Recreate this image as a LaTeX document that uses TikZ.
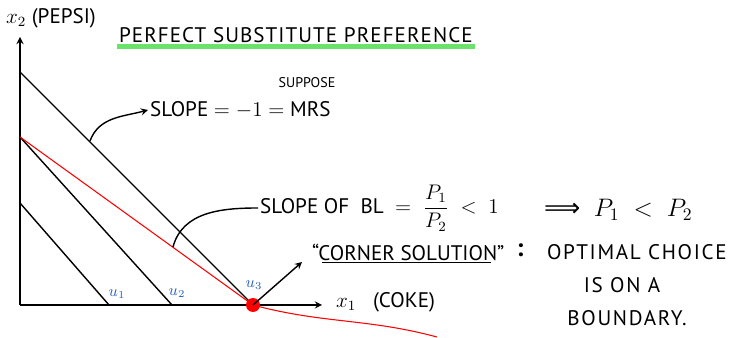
\documentclass[tikz,border=0pt]{standalone}
\usepackage{fontspec}
\setmainfont{PT Sans}
\newfontfamily\widefont{PT Sans}[LetterSpace=8]
\newfontfamily\titlefont{PT Sans}[LetterSpace=5]
\newfontfamily\symfont{DejaVu Sans}
\usepackage{amsmath}
\usetikzlibrary{positioning}
\definecolor{penblue}{RGB}{40,95,190}
\definecolor{marker}{RGB}{70,220,70}
\tikzset{
  indiff/.style={thick, black},
  budget/.style={semithick, red},
  ulabel/.style={text=penblue, font=\small\itshape, inner sep=1pt},
  note/.style={font=\large, inner sep=1pt},
}
\begin{document}
\begin{tikzpicture}[x=0.02cm, y=0.02cm, >=stealth]
    \useasboundingbox (-20,-33) rectangle (711,305);

    % The Axes
    \coordinate (O) at (0,0);
    \coordinate (ytop) at (0,268);
    \coordinate (xend) at (302,0);
    \draw[thick, ->] (O) -- (ytop);
    \draw[thick, ->] (O) -- (xend);
    \node[note, anchor=west] (ylab) at (-16,287) {$x_2$ (PEPSI)};
    \node[note, anchor=west] (xlab) at (314,3) {$x_1$ \ \ (COKE)};

    % The Indifference Curves
    \coordinate (a1) at (0,102);
    \coordinate (b1) at (89,0);
    \coordinate (a2) at (0,168);
    \coordinate (b2) at (152,0);
    \coordinate (a3) at (0,233);
    \coordinate (b3) at (233,0);
    \draw[indiff] (a1) -- (b1);
    \draw[indiff] (a2) -- (b2);
    \draw[indiff] (a3) -- (b3);
    \node[ulabel] (u1) at (97,11) {$u_1$};
    \node[ulabel] (u2) at (157,12) {$u_2$};
    \node[ulabel] (u3) at (234,20) {$u_3$};

    % The Budget Line
    \draw[budget] (a2) -- (b3) to[out=-15, in=165] (417,-32);
    \fill[red] (b3) circle (7);

    % Slope labels
    \coordinate (s1) at (70,164);
    \node[note, anchor=west] (slope) at (128,195) {SLOPE $= -1 =$ MRS};
    \node[font=\footnotesize] (suppose) at (287,222) {SUPPOSE};
    \draw[thick, ->] (s1) to[out=70, in=195] (slope.west);

    \coordinate (s2) at (153,58);
    \node[note, anchor=west] (bl) at (238,97) {SLOPE OF\ \ BL $\;=\;\dfrac{P_1}{P_2}\;<\;1$};
    \node[font=\Large, anchor=west] (pp) at (518,95) {{\symfont ⟹}\ \ $P_1 \;<\; P_2$};
    \draw[thick] (s2) to[out=75, in=180] (bl.west);

    % Corner solution
    \coordinate (c1) at (282,43);
    \node[note, anchor=west] (corner) at (290,53) {``CORNER SOLUTION''};
    \draw[thick] ([xshift=7pt]corner.south west) -- ([xshift=-9pt]corner.south east);
    \draw[thick, ->] (b3) -- (c1);
    \node[font=\Large\bfseries] (colon) at (500,55) {:};
    \node[note, anchor=west] (opt) at (525,53) {\widefont OPTIMAL CHOICE};
    \node[note] (ison) at (602,20) {\widefont IS ON A};
    \node[note] (bound) at (607,-13) {\widefont BOUNDARY.};

    % The Title
    \node[note, anchor=west] (title) at (97,270) {\titlefont PERFECT SUBSTITUTE PREFERENCE};
    \draw[line width=3pt, marker, opacity=0.8] ([yshift=-1pt]title.south west) -- ([yshift=-1pt]title.south east);
\end{tikzpicture}
\end{document}
